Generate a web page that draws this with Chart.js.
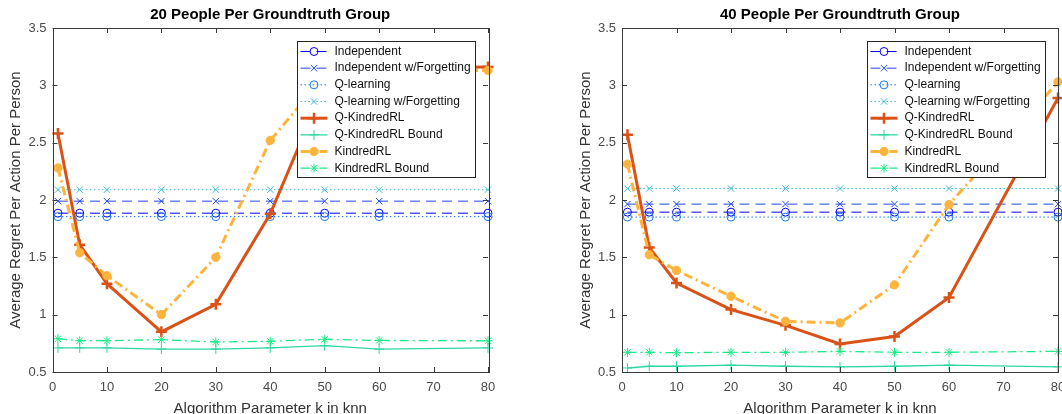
<!DOCTYPE html>
<html>
<head>
<meta charset="utf-8">
<script src="https://cdn.jsdelivr.net/npm/chart.js@4.4.0/dist/chart.umd.min.js"></script>
<style>
  html, body { margin: 0; padding: 0; background: #fff; overflow: hidden; }
  .panel { position: absolute; top: 0; height: 414px; overflow: hidden; }
</style>
</head>
<body>
<div class="panel" style="left:0; width:531px"><canvas id="chart20" width="531" height="414"></canvas></div>
<div class="panel" style="left:531px; width:531px"><canvas id="chart40" width="545" height="414"></canvas></div>
<script>
Chart.defaults.font.family = '"Liberation Sans", Arial, Helvetica, sans-serif';

// k in knn
var kValues = [1, 5, 10, 20, 30, 40, 50, 60, 80];
var xTickValues = [0, 10, 20, 30, 40, 50, 60, 70, 80];
var yTickValues = [0.5, 1, 1.5, 2, 2.5, 3, 3.5];

var seriesNames = ['Independent', 'Independent w/Forgetting', 'Q-learning', 'Q-learning w/Forgetting',
                   'Q-KindredRL', 'Q-KindredRL Bound', 'KindredRL', 'KindredRL Bound'];

// 20 people per groundtruth group
var independent20       = [1.885, 1.885, 1.885, 1.885, 1.885, 1.885, 1.885, 1.885, 1.885];
var independentForget20 = [1.99, 1.99, 1.99, 1.99, 1.99, 1.99, 1.99, 1.99, 1.99];
var qLearning20         = [1.855, 1.855, 1.855, 1.855, 1.855, 1.855, 1.855, 1.855, 1.855];
var qLearningForget20   = [2.09, 2.09, 2.09, 2.09, 2.09, 2.09, 2.09, 2.09, 2.09];
var qKindred20          = [2.58, 1.61, 1.27, 0.85, 1.09, 1.88, 3.0, 3.15, 3.16];
var qKindredBound20     = [0.71, 0.71, 0.71, 0.70, 0.70, 0.71, 0.73, 0.70, 0.71];
var kindred20           = [2.28, 1.54, 1.34, 1.0, 1.5, 2.52, 3.08, 3.12, 3.13];
var kindredBound20      = [0.79, 0.773, 0.773, 0.782, 0.762, 0.768, 0.785, 0.775, 0.772];

// 40 people per groundtruth group
var independent40       = [1.894, 1.894, 1.894, 1.894, 1.894, 1.894, 1.894, 1.894, 1.894];
var independentForget40 = [1.964, 1.964, 1.964, 1.964, 1.964, 1.964, 1.964, 1.964, 1.964];
var qLearning40         = [1.851, 1.851, 1.851, 1.851, 1.851, 1.851, 1.851, 1.851, 1.851];
var qLearningForget40   = [2.10, 2.10, 2.10, 2.10, 2.10, 2.10, 2.10, 2.10, 2.10];
var qKindred40          = [2.568, 1.586, 1.276, 1.044, 0.907, 0.745, 0.81, 1.15, 2.89];
var qKindredBound40     = [0.535, 0.55, 0.55, 0.56, 0.55, 0.545, 0.55, 0.56, 0.545];
var kindred40           = [2.313, 1.523, 1.386, 1.16, 0.942, 0.928, 1.26, 1.96, 3.03];
var kindredBound40      = [0.672, 0.672, 0.668, 0.672, 0.672, 0.68, 0.672, 0.672, 0.68];

// matlab-ish line styles, one per series
var styles = [
  { color: '#0000ff', dash: [10, 6], width: 1, marker: 'circle', r: 4, mw: 1, fill: 'rgba(0,0,0,0)' },
  { color: '#1f48f2', dash: [10, 6], width: 1, marker: 'crossRot', r: 4.5, mw: 1, fill: 'rgba(0,0,0,0)' },
  { color: '#1f7ae6', dash: [1.5, 2.5], width: 1, marker: 'circle', r: 4, mw: 1, fill: 'rgba(0,0,0,0)' },
  { color: '#3fbcd6', dash: [1.5, 2.5], width: 1, marker: 'crossRot', r: 4.5, mw: 1, fill: 'rgba(0,0,0,0)' },
  { color: '#d95319', dash: [], width: 3, marker: 'cross', r: 5.5, mw: 2.5, fill: '#d95319' },
  { color: '#2fd6a4', dash: [], width: 1.3, marker: 'cross', r: 5, mw: 1, fill: 'rgba(0,0,0,0)' },
  { color: '#fdb43c', dash: [9, 4, 2, 4], width: 3, marker: 'circle', r: 4.2, mw: 1, fill: '#fdb43c' },
  { color: '#1bea88', dash: [9, 4, 2, 4], width: 1.3, marker: 'star', r: 4.5, mw: 1, fill: 'rgba(0,0,0,0)' }
];

var axisColor = '#3a3a3a';

// box + inward ticks like matlab
var framePlugin = {
  id: 'frame',
  afterDatasetsDraw: function (chart) {
    var ctx = chart.ctx, a = chart.chartArea;
    var xs = chart.scales.x, ys = chart.scales.y;
    ctx.save();
    ctx.strokeStyle = axisColor;
    ctx.lineWidth = 1;
    ctx.setLineDash([]);
    ctx.strokeRect(Math.round(a.left) + 0.5, Math.round(a.top) + 0.5,
                   Math.round(a.right - a.left), Math.round(a.bottom - a.top));
    ctx.beginPath();
    xs.ticks.forEach(function (t) {
      var px = Math.round(xs.getPixelForValue(t.value)) + 0.5;
      ctx.moveTo(px, a.bottom); ctx.lineTo(px, a.bottom - 5);
      ctx.moveTo(px, a.top); ctx.lineTo(px, a.top + 5);
    });
    ys.ticks.forEach(function (t) {
      var py = Math.round(ys.getPixelForValue(t.value)) + 0.5;
      ctx.moveTo(a.left, py); ctx.lineTo(a.left + 5, py);
      ctx.moveTo(a.right, py); ctx.lineTo(a.right - 5, py);
    });
    ctx.stroke();
    ctx.restore();
  }
};

// legend box inside the axes, top right
var legendPlugin = {
  id: 'boxLegend',
  afterDraw: function (chart) {
    var ctx = chart.ctx, a = chart.chartArea;
    var w = 178, h = 136;
    var x0 = Math.round(a.right - 13 - w) + 0.5, y0 = Math.round(a.top + 12.7) + 0.5;
    ctx.save();
    ctx.fillStyle = '#fff';
    ctx.fillRect(x0, y0, w, h);
    ctx.strokeStyle = '#262626';
    ctx.lineWidth = 1;
    ctx.setLineDash([]);
    ctx.strokeRect(x0, y0, w, h);
    chart.data.datasets.forEach(function (ds, i) {
      var st = styles[i];
      var y = y0 + 10 + i * 16.67;
      ctx.strokeStyle = st.color;
      ctx.lineWidth = st.width;
      ctx.setLineDash(st.dash);
      ctx.beginPath();
      ctx.moveTo(x0 + 3, y);
      ctx.lineTo(x0 + 30, y);
      ctx.stroke();
      ctx.setLineDash([]);
      ctx.lineWidth = st.mw;
      ctx.fillStyle = st.fill;
      Chart.helpers.drawPoint(ctx, { pointStyle: st.marker, radius: st.r, borderWidth: st.mw, rotation: 0 }, x0 + 16.5, y);
      ctx.fillStyle = '#111';
      ctx.font = '12px "Liberation Sans", Arial, sans-serif';
      ctx.textBaseline = 'middle';
      ctx.textAlign = 'left';
      ctx.fillText(ds.label, x0 + 37, y);
    });
    ctx.restore();
  }
};

function makeDatasets(seriesValues) {
  return seriesValues.map(function (vals, i) {
    var st = styles[i];
    return {
      label: seriesNames[i],
      data: kValues.map(function (k, j) { return { x: k, y: vals[j] }; }),
      borderColor: st.color,
      borderWidth: st.width,
      borderDash: st.dash,
      pointStyle: st.marker,
      pointRadius: st.r,
      pointBorderWidth: st.mw,
      pointBorderColor: st.color,
      pointBackgroundColor: st.fill,
      tension: 0,
      fill: false,
      clip: false,
      order: seriesValues.length - i
    };
  });
}

function buildChart(id, title, seriesValues, padLeft, padRight) {
  return new Chart(document.getElementById(id), {
    type: 'line',
    data: { datasets: makeDatasets(seriesValues) },
    plugins: [framePlugin, legendPlugin],
    options: {
      responsive: false,
      animation: false,
      layout: { padding: { left: padLeft, right: padRight, top: 0, bottom: 0 } },
      plugins: {
        legend: { display: false },
        tooltip: { enabled: false },
        title: {
          display: true, text: title, fullSize: false, color: '#000',
          font: { size: 15, weight: 'bold' }, padding: { top: 6, bottom: 4 }
        }
      },
      scales: {
        x: {
          type: 'linear', min: 0, max: 80,
          afterBuildTicks: function (s) { s.ticks = xTickValues.map(function (v) { return { value: v }; }); },
          afterFit: function (s) { s.height = 42; },
          grid: { display: false, drawTicks: false },
          border: { display: false },
          ticks: { padding: 8, color: '#4a4a4a', font: { size: 13 }, autoSkip: false, maxRotation: 0,
                   callback: function (v) { return String(v); } },
          title: { display: true, text: 'Algorithm Parameter k in knn', color: '#333', font: { size: 15 }, padding: { top: 0, bottom: -4 } }
        },
        y: {
          min: 0.5, max: 3.5,
          afterBuildTicks: function (s) { s.ticks = yTickValues.map(function (v) { return { value: v }; }); },
          afterFit: function (s) { s.width = 52; },
          grid: { display: false, drawTicks: false },
          border: { display: false },
          ticks: { padding: 6, color: '#4a4a4a', font: { size: 13 },
                   callback: function (v) { return String(v); } },
          title: { display: true, text: 'Average Regret Per Action Per Person', color: '#333', font: { size: 15 }, padding: { top: 6.5, bottom: 0 } }
        }
      }
    }
  });
}

buildChart('chart20', '20 People Per Groundtruth Group',
  [independent20, independentForget20, qLearning20, qLearningForget20,
   qKindred20, qKindredBound20, kindred20, kindredBound20], 0.5, 43);

buildChart('chart40', '40 People Per Groundtruth Group',
  [independent40, independentForget40, qLearning40, qLearningForget40,
   qKindred40, qKindredBound40, kindred40, kindredBound40], 39, 18);
</script>
</body>
</html>
